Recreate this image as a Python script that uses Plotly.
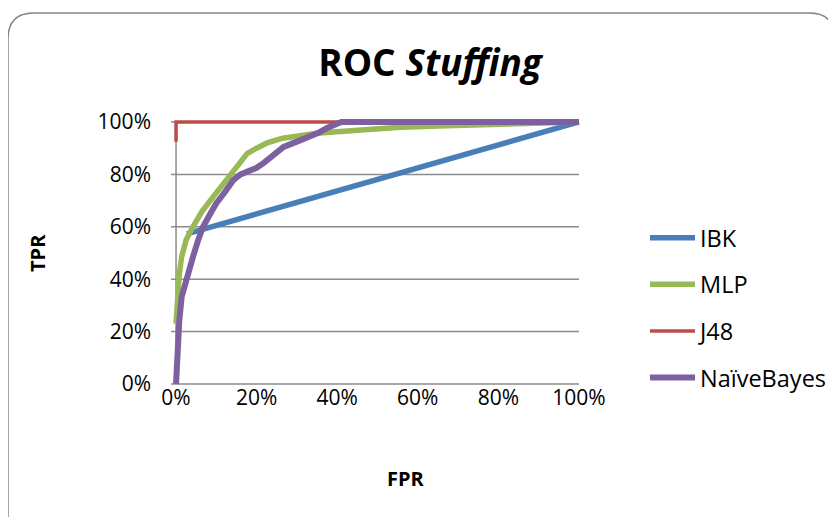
import plotly.graph_objects as go

# ---- data ----
ibk_fpr = [0.027, 1.0]
ibk_tpr = [0.573, 1.0]

mlp_fpr = [0.0, 0.003, 0.008, 0.014, 0.025, 0.042, 0.065, 0.092, 0.115, 0.142, 0.160, 0.177, 0.200,
           0.226, 0.265, 0.308, 0.350, 0.390, 0.450, 0.507, 0.557, 0.650, 0.750, 0.840, 0.920, 1.0]
mlp_tpr = [0.23, 0.32, 0.42, 0.486, 0.55, 0.60, 0.66, 0.714, 0.76, 0.81, 0.845, 0.88, 0.90,
           0.92, 0.938, 0.95, 0.957, 0.962, 0.97, 0.977, 0.98, 0.985, 0.99, 0.993, 0.997, 1.0]

j48_fpr = [0.0, 0.0, 1.0]
j48_tpr = [0.925, 1.0, 1.0]

nb_fpr = [0.0, 0.004, 0.008, 0.014, 0.020, 0.027, 0.035, 0.042, 0.055, 0.067, 0.085, 0.100, 0.120,
          0.142, 0.160, 0.177, 0.200, 0.217, 0.240, 0.267, 0.300, 0.333, 0.355, 0.375, 0.395, 0.41, 1.0]
nb_tpr = [0.0, 0.14, 0.24, 0.333, 0.37, 0.397, 0.44, 0.485, 0.55, 0.60, 0.65, 0.69, 0.73,
          0.778, 0.80, 0.81, 0.825, 0.843, 0.875, 0.905, 0.925, 0.943, 0.96, 0.977, 0.99, 1.0, 1.0]

tick_vals = [0, 0.2, 0.4, 0.6, 0.8, 1.0]
tick_text = ["0%", "20%", "40%", "60%", "80%", "100%"]

FONT = "Open Sans"
OFF = 8  # page body margin
W, H = 836 - OFF, 517 - OFF
# desired plot area in window pixels
PL, PR_, PT, PB = 171, 584, 117, 389
L, T = PL - OFF, PT - OFF
R, B = W - (PR_ - OFF), H - (PB - OFF)
PW, PH = PR_ - PL, PB - PT

def px(x):
    return (x - PL) / PW

def py(y):
    return 1 - (y - PT) / PH

fig = go.Figure()
fig.add_trace(go.Scatter(x=ibk_fpr, y=ibk_tpr, mode="lines", name="IBK", legendgroup="a",
                         line=dict(color="#4A7EBB", width=5.5)))
fig.add_trace(go.Scatter(x=mlp_fpr, y=mlp_tpr, mode="lines", name="MLP", legendgroup="b",
                         line=dict(color="#98B954", width=5.5)))
fig.add_trace(go.Scatter(x=j48_fpr, y=j48_tpr, mode="lines", name="J48", legendgroup="c",
                         line=dict(color="#BE4B48", width=3.5)))
fig.add_trace(go.Scatter(x=nb_fpr, y=nb_tpr, mode="lines", name="NaïveBayes", legendgroup="d",
                         line=dict(color="#7D60A0", width=6)))

shapes = []
for v in tick_vals:
    shapes.append(dict(type="line", xref="x", yref="y", x0=-0.03, x1=1.0, y0=v, y1=v,
                       line=dict(color="#8C8C8C", width=1.5), layer="below"))
shapes.append(dict(type="line", xref="x", yref="y", x0=0, x1=0, y0=0, y1=1,
                   line=dict(color="#8C8C8C", width=1.5), layer="below"))

# rounded chart border
x0, y0, rad = 8, 13, 26
x1, y1 = 835, 560
path = (f"M {px(x0)},{py(y0 + rad)} "
        f"Q {px(x0)},{py(y0)} {px(x0 + rad)},{py(y0)} "
        f"L {px(x1 - rad)},{py(y0)} "
        f"Q {px(x1)},{py(y0)} {px(x1)},{py(y0 + rad)} "
        f"L {px(x1)},{py(y1)} L {px(x0)},{py(y1)} Z")
shapes.append(dict(type="path", xref="paper", yref="paper", path=path,
                   line=dict(color="#868686", width=1.5)))

fig.update_layout(
    width=W, height=H,
    margin=dict(l=L, r=R, t=T, b=B, autoexpand=False),
    paper_bgcolor="white", plot_bgcolor="white",
    font=dict(family=FONT, color="black", size=21),
    title=dict(text="<b>ROC <i>Stuffing</i></b>", x=(430 - OFF) / W, xanchor="center",
               y=1 - (63 - OFF) / H, yanchor="middle", font=dict(family=FONT, size=37, color="black")),
    xaxis=dict(range=[-0.0125, 1.0125], tickvals=tick_vals, ticktext=tick_text, showgrid=False,
               zeroline=False, showline=False, ticks="", ticklabelstandoff=-6),
    yaxis=dict(range=[-0.019, 1.019], tickvals=tick_vals, ticktext=tick_text, showgrid=False,
               zeroline=False, showline=False, ticks="", ticklabelstandoff=19),
    legend=dict(x=px(645), y=py(216), xanchor="left", yanchor="top", tracegroupgap=13,
                font=dict(family=FONT, size=23.5), bgcolor="rgba(0,0,0,0)", itemwidth=45),
    shapes=shapes,
    annotations=[
        dict(text="<b>TPR</b>", xref="paper", yref="paper", x=px(37), y=py(253), showarrow=False,
             textangle=-90, font=dict(family=FONT, size=20), xanchor="center", yanchor="middle"),
        dict(text="<b>FPR</b>", xref="paper", yref="paper", x=px(406), y=py(478), showarrow=False,
             font=dict(family=FONT, size=20), xanchor="center", yanchor="middle"),
    ],
)

fig.write_html("out.html")
